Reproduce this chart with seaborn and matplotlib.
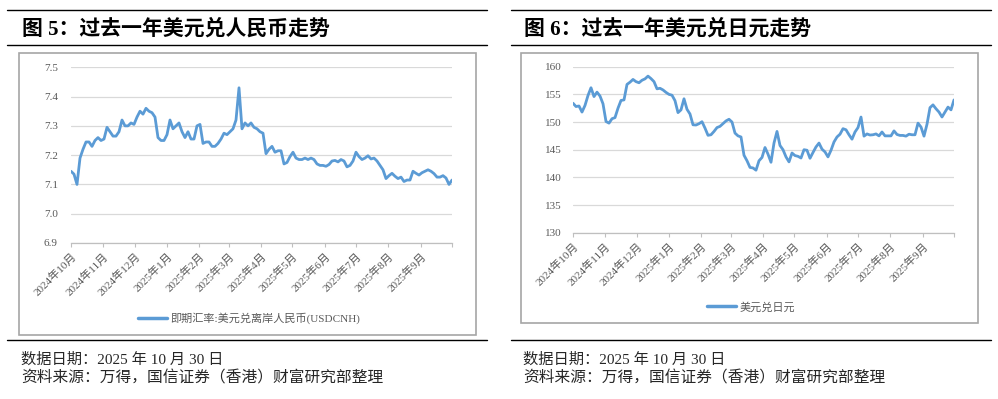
import matplotlib
matplotlib.use("Agg")
import matplotlib.pyplot as plt
from matplotlib.lines import Line2D
from matplotlib.patches import Rectangle
import pandas as pd
import seaborn as sns

# 即期汇率: 美元兑离岸人民币 (USDCNH), 2024-10 ~ 2025-09, 等间距采样
cnh_values = [
    7.145, 7.135, 7.10, 7.19, 7.22, 7.245, 7.245, 7.23, 7.25, 7.26,
    7.25, 7.255, 7.295, 7.28, 7.265, 7.265, 7.28, 7.32, 7.30, 7.30,
    7.31, 7.305, 7.33, 7.35, 7.34, 7.36, 7.35, 7.345, 7.33, 7.26,
    7.25, 7.25, 7.27, 7.32, 7.29, 7.30, 7.31, 7.28, 7.26, 7.28,
    7.255, 7.255, 7.30, 7.305, 7.24, 7.245, 7.245, 7.23, 7.23, 7.24,
    7.255, 7.275, 7.27, 7.28, 7.29, 7.32, 7.43, 7.29, 7.31, 7.30,
    7.31, 7.295, 7.29, 7.28, 7.275, 7.205, 7.22, 7.23, 7.21, 7.215,
    7.215, 7.17, 7.175, 7.195, 7.21, 7.19, 7.185, 7.185, 7.19, 7.185,
    7.19, 7.185, 7.17, 7.165, 7.165, 7.162, 7.168, 7.18, 7.182, 7.177,
    7.185, 7.18, 7.16, 7.165, 7.18, 7.21, 7.195, 7.185, 7.19, 7.198,
    7.187, 7.19, 7.18, 7.165, 7.15, 7.12, 7.13, 7.138, 7.128, 7.12,
    7.125, 7.11, 7.115, 7.115, 7.145, 7.138, 7.132, 7.14, 7.145, 7.15,
    7.145, 7.137, 7.125, 7.125, 7.13, 7.122, 7.10, 7.115,
]

# 美元兑日元 (USDJPY)
jpy_values = [
    153.4, 152.8, 152.9, 151.8, 153.0, 154.8, 156.2, 154.6, 155.4, 154.7,
    153.3, 150.1, 149.8, 150.6, 150.8, 152.5, 153.9, 154.0, 156.8, 157.2,
    157.7, 157.3, 157.1, 157.55, 157.8, 158.3, 157.85, 157.3, 156.0, 156.1,
    155.8, 155.36, 155.0, 154.85, 153.86, 151.7, 152.2, 154.2, 152.3, 151.45,
    149.5, 149.46, 149.7, 150.06, 148.9, 147.6, 147.7, 148.3, 149.0, 149.22,
    149.7, 150.2, 150.5, 150.0, 148.0, 147.5, 147.3, 144.0, 143.0, 141.8,
    141.7, 141.3, 143.0, 143.6, 145.4, 144.2, 142.73, 146.2, 148.3, 145.76,
    145.0, 143.7, 142.8, 144.4, 143.94, 143.8, 143.5, 145.0, 144.9, 143.45,
    144.5, 145.5, 146.2, 145.1, 144.6, 143.7, 144.9, 146.4, 147.3, 147.8,
    148.8, 148.6, 147.7, 146.9, 148.2, 149.0, 150.9, 147.45, 147.85, 147.65,
    147.7, 147.85, 147.5, 148.2, 147.5, 147.5, 147.5, 148.4, 147.75, 147.58,
    147.58, 147.45, 147.8, 147.7, 147.7, 149.8, 149.1, 147.45, 149.6, 152.6,
    153.1, 152.4, 151.8, 150.91, 151.82, 152.7, 152.2, 154.0,
]

month_labels = [
    "2024年10月", "2024年11月", "2024年12月", "2025年1月", "2025年2月",
    "2025年3月", "2025年4月", "2025年5月", "2025年6月", "2025年7月",
    "2025年8月", "2025年9月", "",
]
cnh_yticks = [6.9, 7.0, 7.1, 7.2, 7.3, 7.4, 7.5]
jpy_yticks = [130, 135, 140, 145, 150, 155, 160]

titles = ["图 5：过去一年美元兑人民币走势", "图 6：过去一年美元兑日元走势"]
legend_names = ["即期汇率:美元兑离岸人民币(USDCNH)", "美元兑日元"]
note_date = "数据日期：2025 年 10 月 30 日"
note_source = "资料来源：万得，国信证券（香港）财富研究部整理"

START, END = "2024-10-01", "2025-10-01"
LINE_COLOR = "#5B9BD5"
GREY = "#595959"
W, H = 998, 399

sns.set_theme(style="white")
plt.rcParams["font.family"] = ["Liberation Serif", "Noto Sans CJK SC", "DejaVu Sans"]
plt.rcParams["axes.unicode_minus"] = False

fig = plt.figure(figsize=(W / 100, H / 100), dpi=100)


def fx(px):
    return px / W


def fy(py):
    return 1 - py / H


def hline(x0, x1, y, lw=1.0):
    fig.add_artist(Line2D([fx(x0), fx(x1)], [fy(y), fy(y)], color="black",
                          lw=lw, transform=fig.transFigure))


def draw_panel(rect, values, yticks, fmt, name, leg_xy, ypad):
    ax = fig.add_axes(rect)
    dates = pd.date_range(START, END, periods=len(values))
    df = pd.DataFrame({"date": dates, "value": values})
    sns.lineplot(data=df, x="date", y="value", ax=ax, color=LINE_COLOR,
                 linewidth=2.0, label=name)
    ax.set_xlim(pd.Timestamp(START), pd.Timestamp(END))
    ax.set_ylim(yticks[0], yticks[-1])
    ax.set_yticks(yticks)
    ax.set_yticklabels([fmt.format(v) for v in yticks], fontsize=8, color=GREY)
    ticks = pd.date_range(START, END, freq="MS")
    ax.set_xticks(ticks)
    ax.set_xticklabels(month_labels, fontsize=8, color=GREY, rotation=45,
                       ha="right", va="top", rotation_mode="anchor")
    ax.set_xlabel("")
    ax.set_ylabel("")
    ax.grid(axis="y", color="#d9d9d9", linewidth=0.9)
    ax.grid(axis="x", visible=False)
    for s in ["left", "right", "top"]:
        ax.spines[s].set_visible(False)
    ax.spines["bottom"].set_color("#bfbfbf")
    ax.spines["bottom"].set_linewidth(0.9)
    ax.tick_params(axis="x", length=3, width=0.8, color="#bfbfbf", pad=3,
                   bottom=True)
    ax.tick_params(axis="y", length=0, pad=ypad)
    ax.set_facecolor("white")
    leg = ax.legend(loc="center", bbox_to_anchor=leg_xy,
                    bbox_transform=fig.transFigure, frameon=False,
                    fontsize=8, handlelength=2.6, handletextpad=0.3,
                    labelcolor=GREY)
    for h in leg.get_lines():
        h.set_linewidth(2.5)
    return ax


# 左图: 美元兑人民币
hline(7, 487, 10)
hline(7, 487, 45)
hline(7, 487, 340)
fig.text(fx(22), fy(29), titles[0], fontsize=15, fontweight="bold",
         va="center", ha="left", color="black")
fig.add_artist(Rectangle((fx(19), fy(335)), fx(476) - fx(19), fy(53) - fy(335),
                         fill=False, edgecolor="#a6a6a6", lw=1.2,
                         transform=fig.transFigure))
draw_panel([fx(71), fy(243), fx(452) - fx(71), fy(67.3) - fy(243)],
           cnh_values, cnh_yticks, "{:.1f}", legend_names[0],
           (fx(249), fy(318)), 9.5)
fig.text(fx(21), fy(360), note_date, fontsize=11, va="center", ha="left")
fig.text(fx(21), fy(378), note_source, fontsize=11.3, va="center", ha="left")

# 右图: 美元兑日元
hline(511, 991, 10)
hline(511, 991, 45)
hline(511, 991, 340)
fig.text(fx(524), fy(29), titles[1], fontsize=15, fontweight="bold",
         va="center", ha="left", color="black")
fig.add_artist(Rectangle((fx(521), fy(323)), fx(978) - fx(521), fy(53) - fy(323),
                         fill=False, edgecolor="#a6a6a6", lw=1.2,
                         transform=fig.transFigure))
draw_panel([fx(573), fy(232.7), fx(954) - fx(573), fy(66.7) - fy(232.7)],
           jpy_values, jpy_yticks, "{:.0f}", legend_names[1],
           (fx(751), fy(307)), 8)
fig.text(fx(523), fy(360), note_date, fontsize=11, va="center", ha="left")
fig.text(fx(523), fy(378), note_source, fontsize=11.3, va="center", ha="left")

fig.savefig("out.png", dpi=100, facecolor="white")
